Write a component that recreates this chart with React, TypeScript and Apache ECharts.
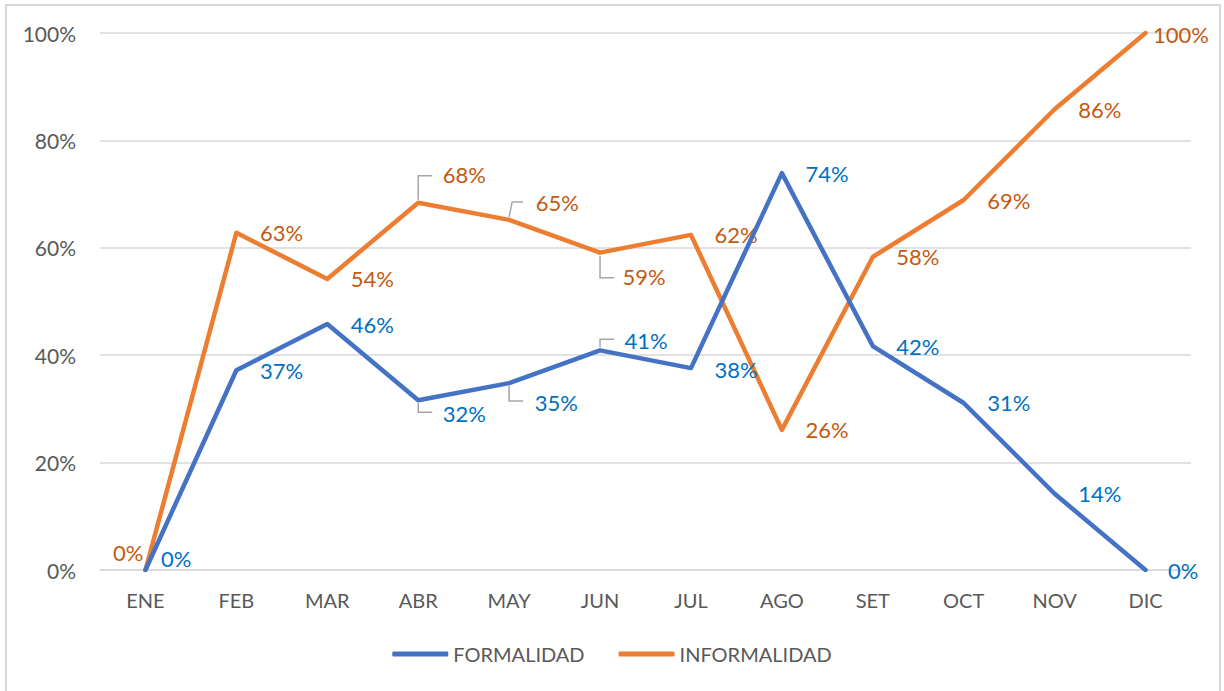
import React, { useEffect, useRef } from "react";
import * as echarts from "echarts";

const months = ["ENE", "FEB", "MAR", "ABR", "MAY", "JUN", "JUL", "AGO", "SET", "OCT", "NOV", "DIC"];
const formalidad = [0, 37.2, 45.8, 31.6, 34.8, 40.9, 37.6, 73.9, 41.7, 31.1, 14.2, 0];
const informalidad = [0, 62.8, 54.2, 68.4, 65.2, 59.1, 62.4, 26.1, 58.3, 68.9, 85.8, 100];
const yTicks = { min: 0, max: 100, interval: 20 };

// label offsets (dx, dy) relative to the default "right" position
const blueOffsets: Record<number, [number, number]> = {
  0: [-8, -12],
  3: [1, 13],
  4: [2, 19],
  5: [1, -10],
  6: [0, 1],
  7: [0, 0],
  11: [-1, 0],
};
const orangeOffsets: Record<number, [number, number]> = {
  0: [-56, -18],
  3: [1, -28],
  4: [3, -17],
  5: [-1, 24],
  11: [-16, 1],
};
// leader lines: [index, labelDy, slant]
const blueLeaders: [number, number, number][] = [
  [3, 12, 0],
  [4, 18, 0],
  [5, -11, 0],
];
const orangeLeaders: [number, number, number][] = [
  [3, -27, 0],
  [4, -18, 3],
  [5, 25, 0],
];

const FONT = "Lato, 'Noto Sans', sans-serif";
const BLUE = "#4472C4";
const ORANGE = "#ED7D31";
const BLUE_TXT = "#0070C0";
const ORANGE_TXT = "#C55A11";
const GRAY_TXT = "#595959";

function makeData(values: number[], offsets: Record<number, [number, number]>) {
  return values.map((v, i) => {
    const off = offsets[i] || [0, 0];
    return { value: v, label: { offset: off } };
  });
}

function leaderData(values: number[], leaders: [number, number, number][]) {
  return leaders.map(([i, dy, slant]) => [i, values[i], dy, slant]);
}

const leaderRender = (params: any, api: any) => {
  const p = api.coord([api.value(0), api.value(1)]);
  const dy = api.value(2);
  const slant = api.value(3);
  const sgn = dy < 0 ? -1 : 1;
  return {
    type: "polyline",
    shape: {
      points: [
        [p[0], p[1] + sgn * 3],
        [p[0] + slant, p[1] + dy],
        [p[0] + 14, p[1] + dy],
      ],
    },
    style: { stroke: "#A6A6A6", lineWidth: 1.5, fill: "none" },
  };
};

export default function App() {
  const ref = useRef<HTMLDivElement>(null);
  useEffect(() => {
    if (!ref.current) return;
    const chart = echarts.init(ref.current, undefined, { renderer: "svg" });
    const labelBase = {
      show: true,
      position: "right",
      distance: 23,
      fontSize: 22,
      fontFamily: FONT,
      formatter: (p: any) => Math.round(p.value) + "%",
    };
    chart.setOption({
      animation: false,
      backgroundColor: "#ffffff",
      textStyle: { fontFamily: FONT },
      grid: { left: 100, right: 33, top: 33, bottom: 121 },
      legend: {
        left: "center",
        top: 639,
        icon: "roundRect",
        itemWidth: 56,
        itemHeight: 5,
        itemGap: 34,
        textStyle: { color: GRAY_TXT, fontSize: 20, fontFamily: FONT },
        data: ["FORMALIDAD", "INFORMALIDAD"],
      },
      xAxis: {
        type: "category",
        data: months,
        boundaryGap: true,
        axisLine: { lineStyle: { color: "#D9D9D9", width: 1.5 } },
        axisTick: { show: false },
        axisLabel: { color: GRAY_TXT, fontSize: 20, fontFamily: FONT, margin: 20 },
      },
      yAxis: {
        type: "value",
        min: yTicks.min,
        max: yTicks.max,
        interval: yTicks.interval,
        axisLine: { show: false },
        axisTick: { show: false },
        splitLine: { lineStyle: { color: "#D9D9D9", width: 1.5 } },
        axisLabel: {
          color: GRAY_TXT,
          fontSize: 21,
          fontFamily: FONT,
          margin: 24,
          formatter: "{value}%",
        },
      },
      series: [
        {
          type: "custom",
          name: "leaderBlue",
          renderItem: leaderRender,
          data: leaderData(formalidad, blueLeaders),
          z: 1,
          silent: true,
          clip: false,
        },
        {
          type: "custom",
          name: "leaderOrange",
          renderItem: leaderRender,
          data: leaderData(informalidad, orangeLeaders),
          z: 1,
          silent: true,
          clip: false,
        },
        {
          name: "FORMALIDAD",
          type: "line",
          data: makeData(formalidad, blueOffsets),
          symbol: "circle",
          symbolSize: 1,
          showSymbol: true,
          itemStyle: { color: BLUE },
          lineStyle: { color: BLUE, width: 4.5, cap: "round", join: "round" },
          label: { ...labelBase, color: BLUE_TXT },
          z: 3,
        },
        {
          name: "INFORMALIDAD",
          type: "line",
          data: makeData(informalidad, orangeOffsets),
          symbol: "circle",
          symbolSize: 1,
          showSymbol: true,
          itemStyle: { color: ORANGE },
          lineStyle: { color: ORANGE, width: 4.5, cap: "round", join: "round" },
          label: { ...labelBase, color: ORANGE_TXT },
          z: 2,
        },
      ],
    });
    return () => chart.dispose();
  }, []);
  return (
    <div style={{ position: "fixed", left: 0, top: 0, width: 1224, height: 691, background: "#fff" }}>
      <div ref={ref} style={{ position: "absolute", left: 0, top: 0, width: 1224, height: 691 }} />
      <div
        style={{
          position: "absolute",
          left: 5,
          top: 4,
          width: 1216,
          height: 700,
          boxSizing: "border-box",
          border: "2px solid #D9D9D9",
          pointerEvents: "none",
        }}
      />
    </div>
  );
}
